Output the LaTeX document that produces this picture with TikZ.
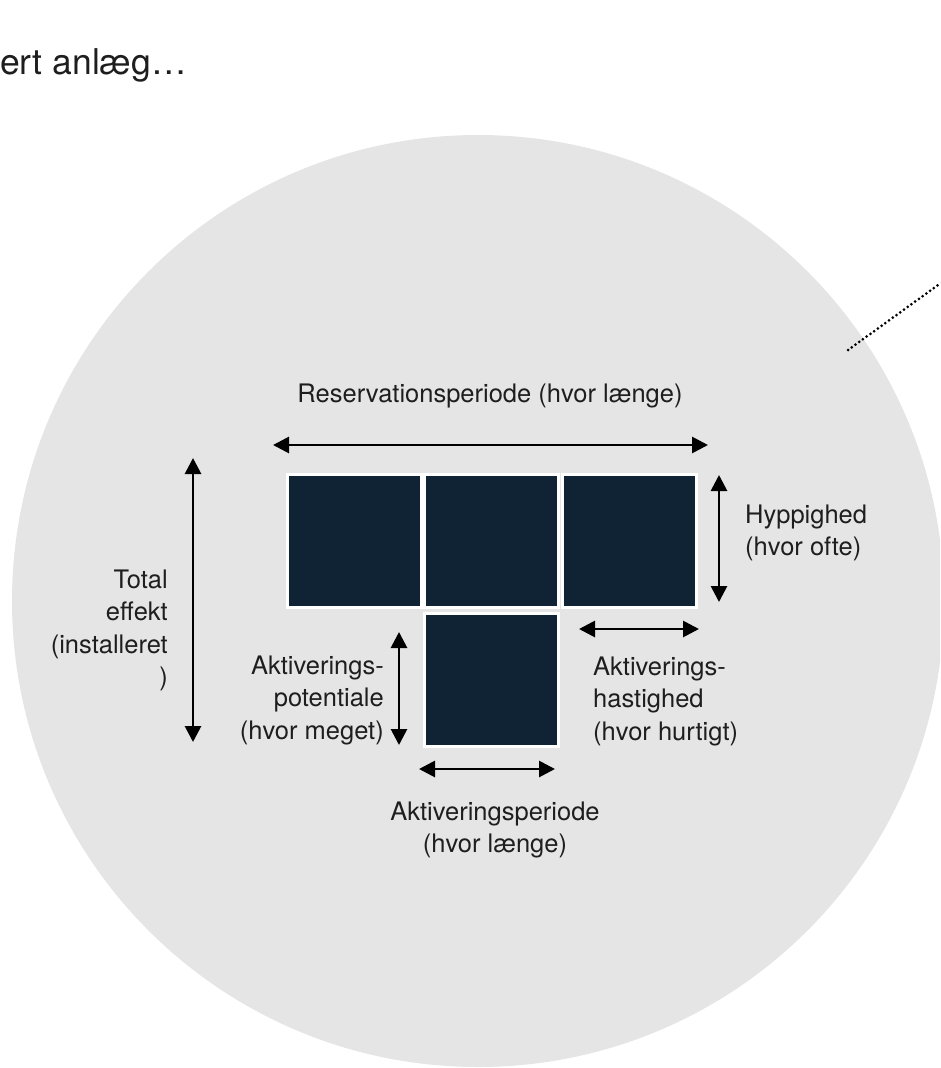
\documentclass[tikz,border=0pt]{standalone}
\usepackage{fontspec}
\setmainfont{TeX Gyre Heros}
\usetikzlibrary{arrows.meta}
\definecolor{bggray}{RGB}{229,229,229}
\definecolor{boxdark}{RGB}{16,35,52}
\definecolor{txt}{RGB}{30,30,30}
\begin{document}
\begin{tikzpicture}[x=1pt,y=-1pt,
  blk/.style={draw=white, line width=3pt, fill=boxdark, minimum width=134pt, minimum height=133pt, inner sep=0pt},
  dim/.style={line width=2.8pt, {Triangle[length=16pt,width=16pt]}-{Triangle[length=16pt,width=16pt]}},
  lbl/.style={inner sep=0pt, text=txt, font=\fontsize{25.5}{32.5}\selectfont},
  ttl/.style={inner sep=0pt, text=txt, font=\fontsize{35.5}{44}\selectfont}]
\useasboundingbox (0,0) rectangle (940,1068);
\clip (0,0) rectangle (940,1068);
\fill[bggray] (478,601) circle[radius=466];
% title
\node[ttl, anchor=base west] (title) at (0,74) {ert anlæg…};
% dotted pointer
\coordinate (dotA) at (848,350);
\coordinate (dotB) at (970,262);
\draw[line width=3pt, line cap=round, dash pattern=on 0pt off 4.6pt] (dotA) -- (dotB);
% boxes
\node[blk] (b1) at (354,541) {};
\node[blk] (b2) at (491.5,541) {};
\node[blk] (b3) at (629,541) {};
\node[blk] (b4) at (491.5,679.5) {};
% arrows
\coordinate (resL) at (273,445); \coordinate (resR) at (708,445);
\coordinate (hypT) at (719,475); \coordinate (hypB) at (719,602);
\coordinate (totT) at (193,458); \coordinate (totB) at (193,742);
\coordinate (potT) at (399,632); \coordinate (potB) at (399,745);
\coordinate (hasL) at (579,629); \coordinate (hasR) at (699,629);
\coordinate (perL) at (419,769); \coordinate (perR) at (555,769);
\draw[dim] (resL) -- (resR);
\draw[dim] (hypT) -- (hypB);
\draw[dim] (totT) -- (totB);
\draw[dim] (potT) -- (potB);
\draw[dim] (hasL) -- (hasR);
\draw[dim] (perL) -- (perR);
% labels
\node[lbl, anchor=base] (res) at (490,402) {Reservationsperiode (hvor længe)};
\node[lbl, anchor=north west, align=left] (hyp) at (745,500.25) {\strut Hyppighed\\(hvor ofte)};
\node[lbl, anchor=north east, align=right] (tot) at (168,565.25) {\strut Total\\effekt\\(installeret\\)};
\node[lbl, anchor=north east, align=right] (pot) at (384,651.25) {\strut Aktiverings-\\potentiale\\(hvor meget)};
\node[lbl, anchor=north west, align=left] (has) at (593,652.25) {\strut Aktiverings-\\hastighed\\(hvor hurtigt)};
\node[lbl, anchor=north, align=center] (per) at (495,797.25) {\strut Aktiveringsperiode\\(hvor længe)};
\end{tikzpicture}
\end{document}
